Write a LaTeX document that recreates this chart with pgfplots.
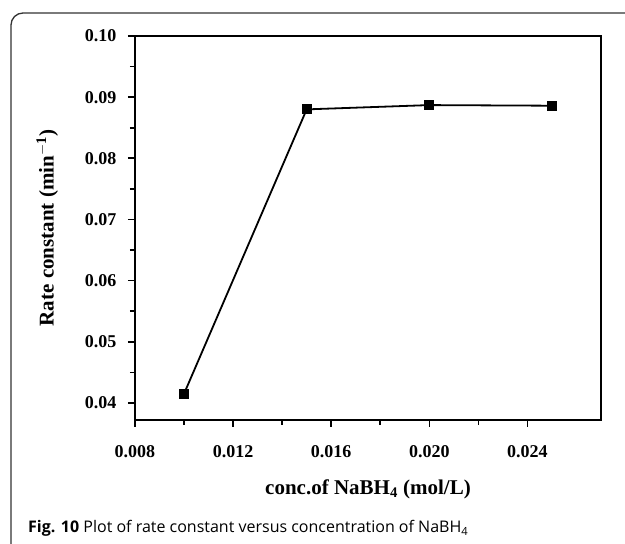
\documentclass[border=0pt]{standalone}
\usepackage{fontspec}
\setmainfont{Liberation Serif}
\newfontfamily\capfont{Open Sans}
\usepackage{pgfplots}
\pgfplotsset{compat=1.18}

\begin{document}
\begin{tikzpicture}[x=1pt,y=1pt]
  \useasboundingbox (0,0) rectangle (625,544);
  \begin{scope}
    \clip (0,0) rectangle (625,544);
    % rounded figure frame
    \draw[line width=1.3pt, black!80, rounded corners=12pt] (11,-4) -- (11,531) -- (700,531);
  \end{scope}

  \begin{axis}[
    at={(135pt,124pt)}, anchor=south west,
    scale only axis,
    width=466pt, height=384pt,
    xmin=0.008, xmax=0.027,
    ymin=0.0372, ymax=0.10,
    axis line style={line width=2pt},
    xtick={0.008,0.012,0.016,0.020,0.024},
    ytick={0.04,0.05,0.06,0.07,0.08,0.09,0.10},
    minor x tick num=1,
    minor y tick num=1,
    tick align=outside,
    xtick pos=bottom, ytick pos=left,
    major tick length=7pt, minor tick length=5pt,
    every tick/.style={line width=1.6pt, black},
    /pgf/number format/assume math mode=true,
    tick label style={font=\fontsize{18}{21}\selectfont\bfseries},
    xticklabel style={yshift=-15pt, /pgf/number format/.cd, fixed, fixed zerofill, precision=3},
    yticklabel style={xshift=-8pt, /pgf/number format/.cd, fixed, fixed zerofill, precision=2},
    scaled x ticks=false, scaled y ticks=false,
    xlabel={conc.of NaBH$_{\mathbf{4}}$ (mol/L)},
    ylabel={Rate constant (min$^{\mathbf{-1}}$)},
    label style={font=\fontsize{21}{24}\selectfont\bfseries},
    xlabel style={yshift=-15pt},
    ylabel style={yshift=20pt},
  ]
    \addplot[black, line width=1.8pt, mark=square*, mark size=4.2pt,
             mark options={solid, fill=black}]
      coordinates {
        (0.010, 0.0415)
        (0.015, 0.0880)
        (0.020, 0.0887)
        (0.025, 0.0886)
      };
  \end{axis}

  \node[anchor=base west, inner sep=0pt, font=\capfont\fontsize{16}{19}\selectfont]
    at (28,11) {\textbf{Fig. 10} Plot of rate constant versus concentration of NaBH\textsubscript{4}};
\end{tikzpicture}
\end{document}
